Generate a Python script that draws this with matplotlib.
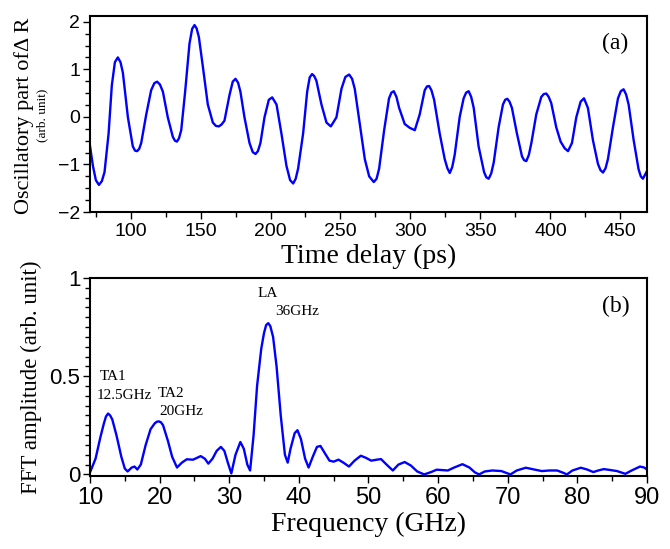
import numpy as np
import matplotlib
matplotlib.use("Agg")
import matplotlib.pyplot as plt
from matplotlib.ticker import MultipleLocator

# ---------------- data ----------------
# (a) oscillatory part of dR vs time delay (ps)
time_ps = [70.7, 73.1, 75.2, 77.4, 79.5, 81.4, 84.3, 86.6, 88.8, 90.9, 92.8, 94.5, 98.1,
           101.6, 103.2, 104.7, 106.2, 107.6, 111.2, 114.7, 117.0, 119.0, 121.0, 123.1,
           126.6, 130.2, 131.7, 133.1, 134.6, 136.2, 139.0, 142.1, 144.0, 145.7, 147.2,
           148.8, 151.6, 155.2, 158.8, 161.0, 163.1, 165.0, 167.1, 170.7, 173.0, 175.0,
           176.8, 178.5, 181.4, 185.0, 187.3, 189.3, 191.0, 192.8, 195.7, 198.8, 201.2,
           204.3, 207.8, 211.4, 214.0, 216.2, 218.0, 219.7, 223.3, 226.2, 228.0, 229.7,
           231.2, 232.8, 236.4, 240.0, 243.1, 247.1, 250.7, 253.5, 256.2, 258.3, 260.2,
           263.8, 267.4, 270.5, 273.8, 275.8, 277.6, 281.2, 284.7, 286.4, 288.1, 290.0,
           291.9, 295.9, 299.5, 303.1, 306.6, 310.2, 311.8, 313.3, 315.0, 316.9, 320.9,
           324.5, 326.4, 328.1, 329.9, 331.6, 335.2, 338.0, 339.8, 341.6, 343.4, 345.2,
           348.7, 352.6, 354.2, 355.9, 357.7, 359.5, 363.0, 366.1, 367.7, 369.2, 370.8,
           372.5, 376.1, 379.7, 381.2, 382.8, 384.6, 386.4, 389.9, 393.5, 395.3, 397.1,
           398.8, 400.6, 404.2, 407.3, 410.2, 412.6, 415.4, 418.5, 421.6, 424.0, 426.8,
           430.4, 434.0, 435.8, 437.6, 439.4, 441.1, 444.7, 448.3, 450.3, 452.3, 454.1,
           455.9, 459.5, 463.0, 464.6, 466.1, 469.0]
osc_dr = [-0.55, -1.03, -1.33, -1.43, -1.35, -1.16, -0.35, 0.66, 1.15, 1.25, 1.15, 0.93, -0.01,
          -0.62, -0.71, -0.72, -0.67, -0.55, 0.05, 0.56, 0.71, 0.74, 0.68, 0.53,
          -0.01, -0.42, -0.50, -0.52, -0.45, -0.28, 0.53, 1.54, 1.85, 1.93, 1.86,
          1.68, 1.07, 0.26, -0.12, -0.19, -0.20, -0.16, -0.08, 0.46, 0.74, 0.80,
          0.72, 0.53, -0.01, -0.55, -0.74, -0.78, -0.72, -0.55, -0.01, 0.36, 0.41,
          0.26, -0.35, -1.03, -1.33, -1.40, -1.30, -1.09, -0.35, 0.53, 0.83, 0.90,
          0.86, 0.76, 0.26, -0.12, -0.20, -0.01, 0.59, 0.84, 0.89, 0.80, 0.59,
          -0.15, -0.89, -1.25, -1.37, -1.30, -1.09, -0.28, 0.39, 0.51, 0.54, 0.42,
          0.19, -0.15, -0.23, -0.28, 0.05, 0.56, 0.64, 0.65, 0.56, 0.36, -0.35,
          -0.89, -1.08, -1.18, -1.05, -0.80, 0.00, 0.39, 0.51, 0.54, 0.42, 0.19,
          -0.62, -1.16, -1.27, -1.30, -1.19, -0.96, -0.22, 0.26, 0.36, 0.38, 0.32,
          0.19, -0.35, -0.83, -0.91, -0.93, -0.80, -0.55, 0.05, 0.42, 0.48, 0.49,
          0.42, 0.29, -0.22, -0.52, -0.66, -0.72, -0.55, -0.01, 0.32, 0.39, 0.19,
          -0.49, -0.99, -1.12, -1.17, -1.08, -0.89, -0.22, 0.39, 0.54, 0.58, 0.47,
          0.26, -0.49, -1.10, -1.25, -1.30, -1.14]

# (b) FFT amplitude vs frequency (GHz)
freq_ghz = [10.0, 10.8, 11.5, 12.0, 12.3, 12.6, 12.9, 13.2, 13.8, 14.5, 15.0, 15.4, 16.0,
            16.4, 16.8, 17.3, 18.0, 18.7, 19.3, 19.6, 19.9, 20.2, 20.5, 21.2, 21.8, 22.5,
            23.2, 23.9, 24.8, 25.9, 26.5, 27.0, 27.6, 28.2, 28.8, 29.3, 29.8, 30.3, 30.9,
            31.6, 32.1, 32.6, 33.0, 33.5, 34.0, 34.6, 35.0, 35.3, 35.6, 35.9, 36.3, 36.8,
            37.4, 38.0, 38.4, 38.8, 39.4, 39.8, 40.3, 40.9, 41.4, 42.0, 42.6, 43.1, 43.7,
            44.4, 45.0, 45.7, 46.4, 47.2, 48.0, 48.9, 49.6, 50.4, 51.2, 51.8, 52.6, 53.5,
            54.3, 55.2, 56.1, 57.0, 58.0, 59.0, 59.8, 60.6, 61.4, 62.3, 63.5, 64.5, 65.3,
            65.9, 66.7, 67.8, 69.1, 70.0, 70.4, 71.3, 72.6, 73.8, 74.9, 76.0, 77.1, 78.0,
            78.5, 79.3, 80.5, 81.4, 82.3, 83.0, 83.8, 84.8, 85.7, 86.9, 87.8, 89.0, 89.6,
            90.0]
fft_amp = [0.01, 0.08, 0.19, 0.26, 0.295, 0.31, 0.30, 0.28, 0.20, 0.09, 0.03, 0.015, 0.035,
           0.04, 0.025, 0.05, 0.15, 0.23, 0.26, 0.268, 0.27, 0.265, 0.25, 0.17, 0.09, 0.035,
           0.06, 0.077, 0.075, 0.093, 0.08, 0.055, 0.08, 0.12, 0.14, 0.12, 0.06, 0.005, 0.10,
           0.165, 0.13, 0.05, 0.02, 0.20, 0.45, 0.64, 0.72, 0.76, 0.77, 0.755, 0.70, 0.55,
           0.30, 0.10, 0.06, 0.13, 0.21, 0.225, 0.18, 0.08, 0.035, 0.09, 0.14, 0.145, 0.11,
           0.07, 0.065, 0.075, 0.06, 0.04, 0.07, 0.095, 0.085, 0.07, 0.075, 0.078, 0.05, 0.02,
           0.05, 0.063, 0.045, 0.015, 0.0, 0.012, 0.024, 0.022, 0.02, 0.035, 0.052, 0.035, 0.01,
           0.0, 0.015, 0.02, 0.017, 0.005, 0.0, 0.02, 0.034, 0.025, 0.017, 0.02, 0.02, 0.008,
           0.0, 0.02, 0.034, 0.025, 0.012, 0.02, 0.027, 0.022, 0.017, 0.003, 0.02, 0.04, 0.035,
           0.025]

peak_labels = ["TA1", "12.5GHz", "TA2", "20GHz", "LA", "36GHz"]
peak_pos = [(11.4, 0.50), (10.9, 0.40), (19.8, 0.41), (19.9, 0.32), (34.1, 0.92), (36.6, 0.83)]

# ---------------- styling ----------------
SERIF = "Liberation Serif"
SANS = "Liberation Sans"
BLUE = "#0000ff"

fig = plt.figure(figsize=(6.7, 5.49), dpi=100)
ax1 = fig.add_axes([0.1343, 0.6138, 0.8313, 0.357])
ax2 = fig.add_axes([0.1343, 0.1330, 0.8313, 0.3607])


def style_axes(ax, xsize, ysize):
    for sp in ax.spines.values():
        sp.set_linewidth(1.5)
    ax.tick_params(which="both", direction="out", top=False, right=False, width=1.0)
    ax.tick_params(which="major", length=5)
    ax.tick_params(which="minor", length=3.5)
    ax.tick_params(axis="x", pad=3)
    ax.tick_params(axis="y", pad=2)
    for lbl in ax.get_xticklabels():
        lbl.set_fontfamily(SANS)
        lbl.set_fontsize(xsize)
    for lbl in ax.get_yticklabels():
        lbl.set_fontfamily(SANS)
        lbl.set_fontsize(ysize)


# ---- (a) ----
ax1.plot(time_ps, osc_dr, color=BLUE, lw=1.7, solid_joinstyle="round")
ax1.set_xlim(71, 469)
ax1.set_ylim(-2, 2.12)
ax1.set_xticks([100, 150, 200, 250, 300, 350, 400, 450])
ax1.set_yticks([-2, -1, 0, 1, 2])
ax1.xaxis.set_minor_locator(MultipleLocator(25))
ax1.yaxis.set_minor_locator(MultipleLocator(0.25))
style_axes(ax1, 14, 14)
ax1.set_xlabel("Time delay (ps)", fontfamily=SERIF, fontsize=20, labelpad=3)
ax1.text(0.966, 0.862, "(a)", transform=ax1.transAxes, ha="right", va="center",
         fontfamily=SERIF, fontsize=17)
fig.text(0.036, 0.79, "Oscillatory part of\u0394 R", rotation=90, ha="center", va="center",
         fontfamily=SERIF, fontsize=16)
fig.text(0.063, 0.79, "(arb. unit)", rotation=90, ha="center", va="center",
         fontfamily=SERIF, fontsize=9.5)

# ---- (b) ----
ax2.plot(freq_ghz, fft_amp, color=BLUE, lw=1.7, solid_joinstyle="round")
ax2.set_xlim(10, 90)
ax2.set_ylim(-0.008, 1.0)
ax2.set_xticks(range(10, 91, 10))
ax2.set_yticks([0, 0.5, 1])
ax2.set_yticklabels(["0", "0.5", "1"])
ax2.xaxis.set_minor_locator(MultipleLocator(5))
ax2.yaxis.set_minor_locator(MultipleLocator(0.05))
style_axes(ax2, 17, 16)
ax2.set_xlabel("Frequency (GHz)", fontfamily=SERIF, fontsize=20, labelpad=2)
ax2.set_ylabel("FFT amplitude (arb. unit)", fontfamily=SERIF, fontsize=16.5, labelpad=5)
ax2.text(0.968, 0.854, "(b)", transform=ax2.transAxes, ha="right", va="center",
         fontfamily=SERIF, fontsize=17)
for txt, (px, py) in zip(peak_labels, peak_pos):
    ax2.text(px, py, txt, ha="left", va="center", fontfamily=SERIF, fontsize=11)

fig.savefig("out.png", dpi=100)
